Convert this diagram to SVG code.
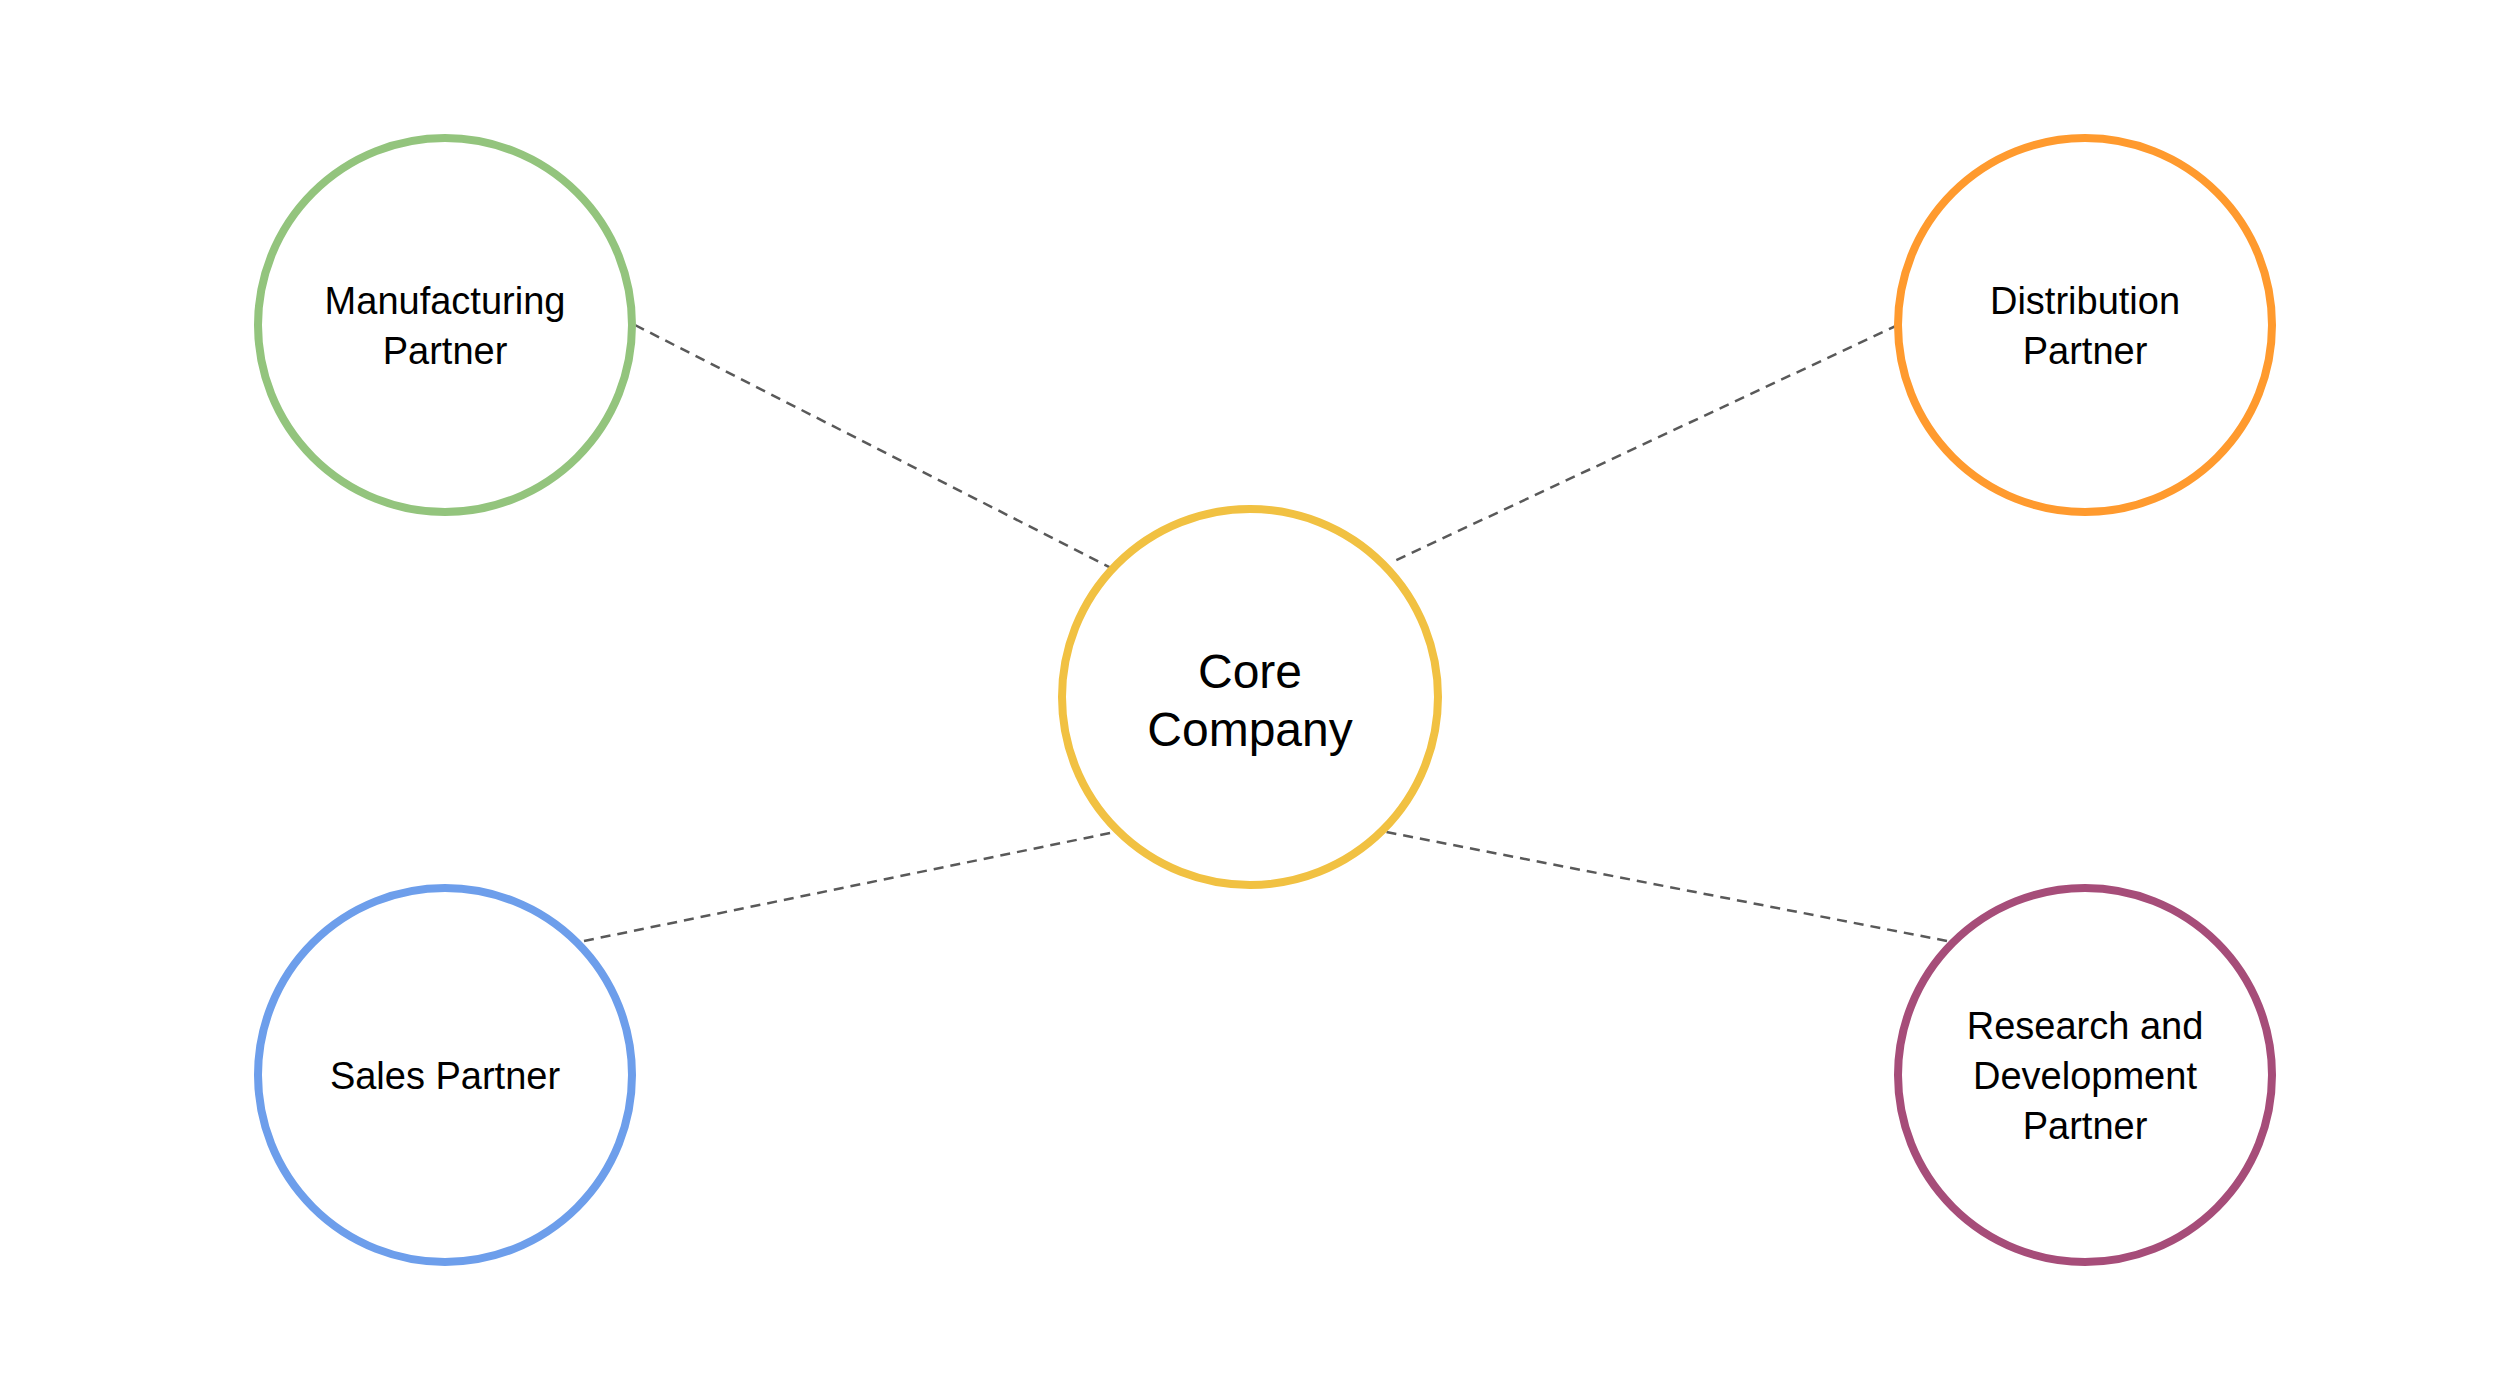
<svg xmlns="http://www.w3.org/2000/svg" width="2500" height="1396" viewBox="0 0 2500 1396">
<style>
.n{fill:#fff;stroke-width:8}
.t{font-family:"Liberation Sans",Arial,sans-serif;text-anchor:middle;fill:#000}
.s{font-size:38px}
.c line{stroke:#595959;stroke-width:2.5;stroke-dasharray:10 7}
</style>
<rect width="2500" height="1396" fill="#fff"/>
<g class="c" id="connectors">
<line x1="635" y1="325" x2="1117" y2="571"/>
<line x1="1898" y1="325" x2="1390" y2="563"/>
<line x1="584" y1="941" x2="1120" y2="831"/>
<line x1="1947" y1="941" x2="1381" y2="831"/>
</g>
<g id="core"><circle class="n" cx="1250" cy="697" r="188" stroke="#f1c142"/>
<text class="t" font-size="48"><tspan x="1250" y="688">Core</tspan><tspan x="1250" y="746">Company</tspan></text></g>
<g id="manufacturing"><circle class="n" cx="445" cy="325" r="187" stroke="#93c47d"/>
<text class="t s"><tspan x="445" y="314">Manufacturing</tspan><tspan x="445" y="364">Partner</tspan></text></g>
<g id="distribution"><circle class="n" cx="2085" cy="325" r="187" stroke="#ff9a2e"/>
<text class="t s"><tspan x="2085" y="314">Distribution</tspan><tspan x="2085" y="364">Partner</tspan></text></g>
<g id="sales"><circle class="n" cx="445" cy="1075" r="187" stroke="#6d9eeb"/>
<text class="t s" x="445" y="1089">Sales Partner</text></g>
<g id="rnd"><circle class="n" cx="2085" cy="1075" r="187" stroke="#a64d79"/>
<text class="t s"><tspan x="2085" y="1039">Research and</tspan><tspan x="2085" y="1089">Development</tspan><tspan x="2085" y="1139">Partner</tspan></text></g>
</svg>
